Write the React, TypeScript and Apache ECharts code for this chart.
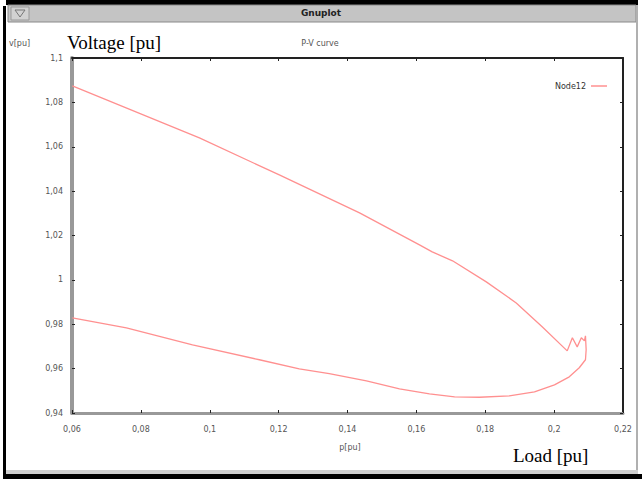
import React, { useEffect, useRef } from "react";
import * as echarts from "echarts";

// P-V curve, Node12 (upper branch -> nose -> lower branch)
const loadUpper = [0.0601, 0.097, 0.1202, 0.1435, 0.1609, 0.1646, 0.1705, 0.1803, 0.189, 0.1966, 0.2038];
const voltUpper = [1.0874, 1.064, 1.0473, 1.0302, 1.0158, 1.0126, 1.0086, 0.9991, 0.9896, 0.9788, 0.968];
const loadNose = [0.2053, 0.2067, 0.2079, 0.2088, 0.2091, 0.2093];
const voltNose = [0.9739, 0.9698, 0.9739, 0.9725, 0.9748, 0.9685];
const loadLower = [0.2091, 0.2073, 0.2044, 0.2001, 0.1943, 0.187, 0.1783, 0.1711, 0.1638, 0.1551, 0.1455, 0.1347, 0.126, 0.1144, 0.095, 0.0758, 0.0601];
const voltLower = [0.964, 0.9604, 0.9563, 0.9527, 0.9495, 0.9477, 0.9471, 0.9473, 0.9486, 0.9509, 0.9545, 0.9577, 0.9599, 0.964, 0.9707, 0.9784, 0.9829];

const xTicks = [0.06, 0.08, 0.1, 0.12, 0.14, 0.16, 0.18, 0.2, 0.22];
const yTicks = [0.94, 0.96, 0.98, 1, 1.02, 1.04, 1.06, 1.08, 1.1];

const seriesName = "Node12";
const chartTitle = "P-V curve";
const xName = "p[pu]";
const yName = "v[pu]";

const fmt = (v: number) => String(+v.toFixed(2)).replace(".", ",");

export default function App() {
  const ref = useRef<HTMLDivElement>(null);
  useEffect(() => {
    if (!ref.current) return;
    const chart = echarts.init(ref.current, undefined, { renderer: "svg" });
    const data: number[][] = [];
    loadUpper.forEach((x, i) => data.push([x, voltUpper[i]]));
    loadNose.forEach((x, i) => data.push([x, voltNose[i]]));
    loadLower.forEach((x, i) => data.push([x, voltLower[i]]));

    const tickFont = { fontFamily: "DejaVu Sans", fontSize: 8, color: "#555" };
    const gl = 72, gt = 58, gw = 551, gh = 355;

    chart.setOption({
      animation: false,
      backgroundColor: "#ffffff",
      grid: { left: gl, top: gt, width: gw, height: gh, show: false },
      legend: {
        show: true,
        data: [{ name: seriesName, icon: "rect" }],
        right: 30,
        top: 77,
        align: "right",
        itemWidth: 16,
        itemHeight: 1.5,
        itemGap: 6,
        textStyle: { fontFamily: "DejaVu Sans", fontSize: 8, color: "#333" },
      },
      xAxis: [
        {
          type: "value",
          min: xTicks[0],
          max: xTicks[xTicks.length - 1],
          interval: 0.02,
          axisLine: { show: true, lineStyle: { color: "#999", width: 3 } },
          axisTick: { show: true, inside: true, length: 3, lineStyle: { color: "#222" } },
          axisLabel: { ...tickFont, margin: 12, formatter: fmt },
          splitLine: { show: false },
        },
        {
          type: "value",
          position: "top",
          min: xTicks[0],
          max: xTicks[xTicks.length - 1],
          interval: 0.02,
          axisLine: { show: true, lineStyle: { color: "#222", width: 2 } },
          axisTick: { show: true, inside: true, length: 3, lineStyle: { color: "#222" } },
          axisLabel: { show: false },
          splitLine: { show: false },
        },
      ],
      yAxis: [
        {
          type: "value",
          min: yTicks[0],
          max: yTicks[yTicks.length - 1],
          interval: 0.02,
          axisLine: { show: true, lineStyle: { color: "#999", width: 4 } },
          axisTick: { show: true, inside: true, length: 3, lineStyle: { color: "#222" } },
          axisLabel: { ...tickFont, margin: 9, formatter: fmt },
          splitLine: { show: false },
        },
        {
          type: "value",
          position: "right",
          min: yTicks[0],
          max: yTicks[yTicks.length - 1],
          interval: 0.02,
          axisLine: { show: true, lineStyle: { color: "#222", width: 2 } },
          axisTick: { show: true, inside: true, length: 3, lineStyle: { color: "#222" } },
          axisLabel: { show: false },
          splitLine: { show: false },
        },
      ],
      series: [
        {
          name: seriesName,
          type: "line",
          data,
          symbol: "none",
          smooth: false,
          lineStyle: { color: "#ff9090", width: 1.3 },
          itemStyle: { color: "#ff9090" },
        },
      ],
      graphic: [
        // window chrome
        { type: "rect", shape: { x: 6, y: 0, width: 632, height: 5 }, style: { fill: "#000" } },
        { type: "rect", shape: { x: 8, y: 5, width: 628, height: 17 }, style: { fill: "#c4c4c4", stroke: "#8a8a8a", lineWidth: 1 } },
        { type: "rect", shape: { x: 11, y: 7, width: 18, height: 13 }, style: { fill: "#d2d2d2", stroke: "#9a9a9a", lineWidth: 1 } },
        { type: "polygon", shape: { points: [[15, 10], [25, 10], [20, 17]] }, style: { fill: "none", stroke: "#777", lineWidth: 1 } },
        { type: "text", x: 321, y: 13, style: { text: "Gnuplot", fontFamily: "DejaVu Sans", fontWeight: "bold", fontSize: 9, fill: "#222", align: "center", verticalAlign: "middle" } },
        { type: "rect", shape: { x: 3, y: 6, width: 3, height: 473 }, style: { fill: "#000" } },
        { type: "rect", shape: { x: 636, y: 5, width: 2, height: 470 }, style: { fill: "#b0b0b0" } },
        { type: "rect", shape: { x: 6, y: 470, width: 632, height: 4 }, style: { fill: "#cfcfcf" } },
        { type: "rect", shape: { x: 3, y: 474, width: 639, height: 5 }, style: { fill: "#000" } },
        // gnuplot texts
        { type: "text", x: 9, y: 43, style: { text: yName, fontFamily: "DejaVu Sans", fontSize: 8, fill: "#555", verticalAlign: "middle" } },
        { type: "text", x: 320, y: 43, style: { text: chartTitle, fontFamily: "DejaVu Sans", fontSize: 8, fill: "#555", align: "center", verticalAlign: "middle" } },
        { type: "text", x: 350, y: 447, style: { text: xName, fontFamily: "DejaVu Sans", fontSize: 8, fill: "#555", align: "center", verticalAlign: "middle" } },
        // overlay annotations
        { type: "text", x: 67, y: 42, style: { text: "Voltage [pu]", fontFamily: "Liberation Serif", fontSize: 19, fill: "#000", verticalAlign: "middle" } },
        { type: "text", x: 513, y: 455, style: { text: "Load [pu]", fontFamily: "Liberation Serif", fontSize: 19, fill: "#000", verticalAlign: "middle" } },
      ],
    });
    return () => chart.dispose();
  }, []);
  return (
    <div
      ref={ref}
      style={{ position: "fixed", left: 0, top: 0, width: 642, height: 479 }}
    />
  );
}
